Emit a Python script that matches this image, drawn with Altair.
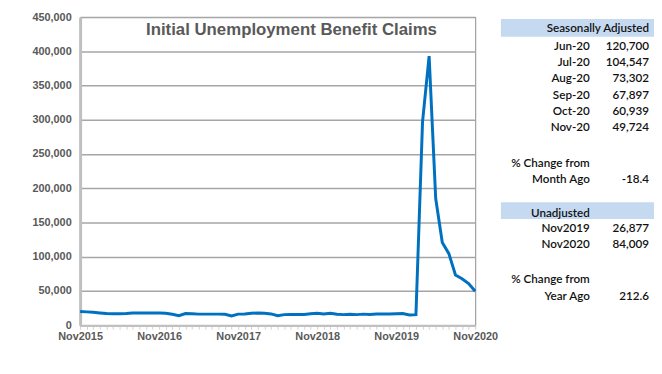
import altair as alt
import pandas as pd

# ---------------- data ----------------
months = pd.date_range("2015-11-01", "2020-11-01", freq="MS").strftime("%b%Y").tolist()

claims = [
    20000, 19500, 19000, 18000, 17000, 16800, 16800, 17000, 17800, 17800,
    17800, 17800, 17800, 17500, 16000, 14000, 17000, 16800, 16200, 16200,
    16200, 16200, 16000, 13500, 16200, 16500, 17500, 17800, 17500, 16500,
    14000, 15500, 15800, 15800, 15800, 16800, 17500, 16500, 17500, 16000,
    15500, 16000, 15500, 16200, 15800, 16500, 16500, 16500, 16800, 17000,
    15000, 15500, 297000, 393000, 185000, 120700, 104547, 73302, 67897, 60939,
    49724,
]

title_text = "Initial Unemployment Benefit Claims"

sa_header = "Seasonally Adjusted"
sa_labels = ["Jun-20", "Jul-20", "Aug-20", "Sep-20", "Oct-20", "Nov-20"]
sa_values = [120700, 104547, 73302, 67897, 60939, 49724]
month_change = -18.4

un_header = "Unadjusted"
un_labels = ["Nov2019", "Nov2020"]
un_values = [26877, 84009]
year_change = 212.6

df = pd.DataFrame({"month": months, "claims": claims})

# ---------------- layout ----------------
W, H = 400, 312
FONT = "Liberation Sans"
TFONT = "Lato"
TSIZE = 11.8
LBL_X = 516
VAL_X = 576
BAND_X = (426, 585)
sa_band_y = (2, 20)
sa_header_y = 11
sa_rows_y = [29, 45.5, 62, 78.5, 95, 111.5]
chg1_y = (147.5, 164)
un_band_y = (187.5, 204.5)
un_header_y = 198
un_rows_y = [214, 229.5]
chg2_y = (265, 282)

line = alt.Chart(df).mark_line(color="#0070C0", strokeWidth=3).encode(
    x=alt.X(
        "month:N",
        sort=months,
        scale=alt.Scale(type="point", padding=0),
        axis=alt.Axis(
            title=None,
            labelAngle=0,
            labelExpr="slice(datum.value,0,3)=='Nov' ? datum.value : ''",
            labelOverlap=False,
            labelFont=FONT,
            labelFontSize=11,
            labelFontWeight="bold",
            labelColor="#595959",
            labelPadding=1,
            ticks=True,
            tickSize=4,
            tickColor="#d0d0d0",
            domainColor="#bfbfbf",
            domainWidth=2,
            grid=False,
        ),
    ),
    y=alt.Y(
        "claims:Q",
        scale=alt.Scale(domain=[0, 450000], nice=False),
        axis=alt.Axis(
            title=None,
            values=list(range(0, 450001, 50000)),
            format=",.0f",
            labelFont=FONT,
            labelFontSize=11,
            labelFontWeight="bold",
            labelColor="#595959",
            labelPadding=9,
            ticks=False,
            domainColor="#bfbfbf",
            domainWidth=3,
            grid=True,
            gridColor="#a6a6a6",
            gridWidth=1.5,
        ),
    ),
)


def one():
    return pd.DataFrame({"k": [0]})


def txt(s, x, y, align="right", font=TFONT, size=TSIZE, weight=600, color="#111111"):
    return alt.Chart(pd.DataFrame({"t": [s]})).mark_text(
        align=align, baseline="middle", font=font, fontSize=size,
        fontWeight=weight, color=color,
    ).encode(text="t:N", x=alt.value(x), y=alt.value(y))


def band(y0, y1):
    return alt.Chart(one()).mark_rect(color="#C5D9F1").encode(
        x=alt.value(BAND_X[0]), x2=alt.value(BAND_X[1]),
        y=alt.value(y0), y2=alt.value(y1),
    )


layers = [line]
layers.append(txt(title_text, 214, 13, align="center", font=FONT, size=17,
                  weight="bold", color="#595959"))

layers.append(band(*sa_band_y))
layers.append(txt(sa_header, VAL_X, sa_header_y))
for lab, val, yy in zip(sa_labels, sa_values, sa_rows_y):
    layers.append(txt(lab, LBL_X, yy))
    layers.append(txt(f"{val:,}", VAL_X, yy))
layers.append(txt("% Change from", LBL_X, chg1_y[0]))
layers.append(txt("Month Ago", LBL_X, chg1_y[1]))
layers.append(txt(f"{month_change}", VAL_X, chg1_y[1]))

layers.append(band(*un_band_y))
layers.append(txt(un_header, LBL_X, un_header_y))
for lab, val, yy in zip(un_labels, un_values, un_rows_y):
    layers.append(txt(lab, LBL_X, yy))
    layers.append(txt(f"{val:,}", VAL_X, yy))
layers.append(txt("% Change from", LBL_X, chg2_y[0]))
layers.append(txt("Year Ago", LBL_X, chg2_y[1]))
layers.append(txt(f"{year_change}", VAL_X, chg2_y[1]))

chart = alt.layer(*layers).properties(
    width=W,
    height=H,
    autosize=alt.AutoSizeParams(type="none"),
    padding={"left": 73, "top": 7, "right": 181, "bottom": 30},
    background="white",
).configure_view(stroke="#8c8c8c", strokeWidth=1)

chart.save("out.html", embed_options={"renderer": "svg", "actions": False})
